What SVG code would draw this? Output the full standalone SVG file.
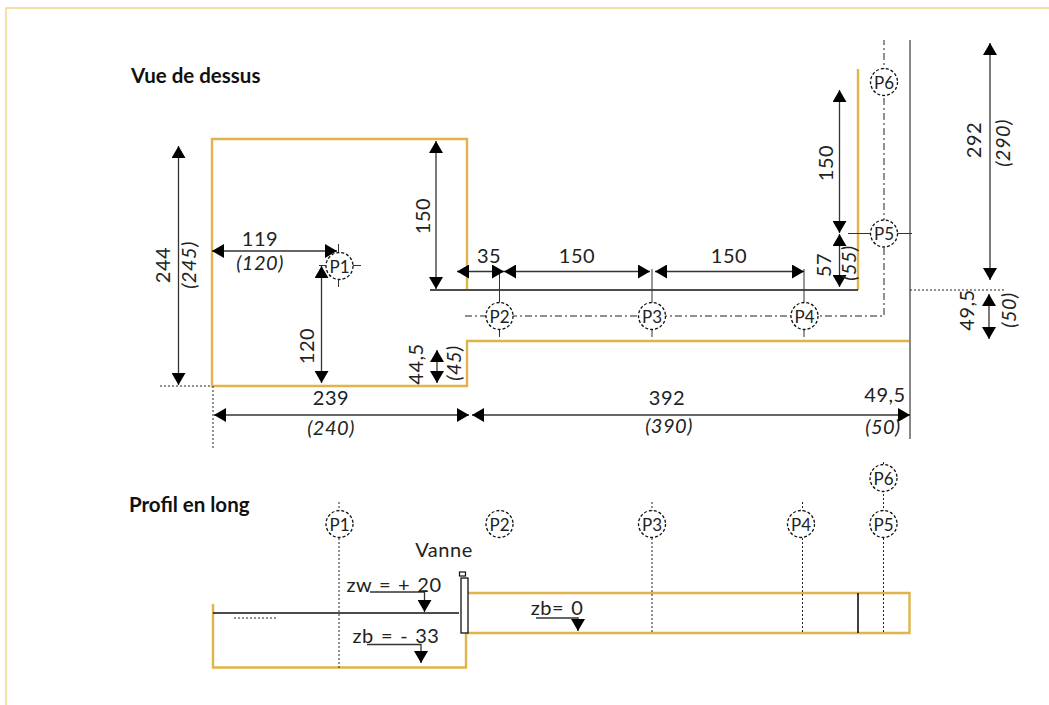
<svg xmlns="http://www.w3.org/2000/svg" width="1049" height="705" viewBox="0 0 1049 705">
<style>
text{font-family:Lato,"Noto Sans","Liberation Sans",sans-serif;font-size:20px;fill:#222;text-anchor:middle;letter-spacing:.5px}
.i{font-style:italic}
.b{font-weight:700;font-size:20.500px;fill:#111;text-anchor:start;letter-spacing:0}
.p{font-size:17px;letter-spacing:0}
.g{fill:none;stroke:#e0b44a;stroke-width:2.4}
.k{fill:none;stroke:#111;stroke-width:1.6}
.t{fill:none;stroke:#333;stroke-width:1}
.d{fill:none;stroke:#222;stroke-width:1;stroke-dasharray:2 2}
.dd{fill:none;stroke:#222;stroke-width:1;stroke-dasharray:7 3 2 3}
.a{fill:none;stroke:#333;stroke-width:1.3;marker-start:url(#ar);marker-end:url(#ar)}
.e{fill:none;stroke:#333;stroke-width:1.3;marker-end:url(#ar)}
.c{fill:#fff;stroke:#111;stroke-width:1.3;stroke-dasharray:3 2}
.z{word-spacing:1.500px}
</style>
<defs>
<marker id="ar" markerUnits="userSpaceOnUse" viewBox="0 0 12 14" refX="12" refY="7" markerWidth="12" markerHeight="14" orient="auto-start-reverse"><path d="M0 0L12 7L0 14Z" fill="#000"/></marker>
</defs>
<path d="M6 705V8H1049" fill="none" stroke="#f3d68e" stroke-width="1.5"/>
<g id="connectors">
<path class="g" d="M467 289V139H212V386H467V341H909"/>
<path class="g" d="M858 69V290"/>
<path class="g" d="M213 604V667.500H466V633"/>
<path class="g" d="M467 593H909.500V633H467"/>
<path class="k" d="M430 290H858"/>
<path d="M910 40V439" fill="none" stroke="#555" stroke-width="1.4"/>
<path class="k" d="M858 593V633"/>
<path class="k" d="M213 613H459"/>
<path class="dd" d="M465 316H884V40"/>
<path class="t" d="M499.500 271V337M652 269V337M804 269V337M848 233.500H912M338.500 244V287M319 265.500H361"/>
<path class="d" d="M160 386H212M213 386V450M910 290H1006M234 618H277M339 502V669M652 502V633M802.500 502V633M883.500 462V633"/>
<path class="a" d="M178.500 146V385"/>
<path class="a" d="M212 251H337"/>
<path class="a" d="M321.500 266V383"/>
<path class="a" d="M214 415H469"/>
<path class="a" d="M472 415H910"/>
<path class="a" d="M436 141V289"/>
<path class="a" d="M457 271.500H504"/>
<path class="a" d="M504 271.500H650"/>
<path class="a" d="M655 271.500H804"/>
<path class="a" d="M839.500 90V233"/>
<path class="a" d="M839.500 234V287"/>
<path class="a" d="M990 43V280"/>
<path class="a" d="M989 294V339"/>
<path class="a" d="M437 350V383"/>
<path class="e" d="M370 592H424.500V612"/>
<path class="e" d="M367 644.500H421V663"/>
<path class="e" d="M536 618H578V631"/>
</g>
<g id="gate"><rect x="461" y="578" width="7" height="55" fill="#fff" stroke="#111" stroke-width="1.300"/><rect x="459.500" y="572" width="6" height="4" fill="#fff" stroke="#111" stroke-width="1.200"/></g>
<g id="P1"><circle class="c" cx="339.500" cy="266" r="13.500"/><text class="p" x="339.500" y="272.500">P1</text></g>
<g id="P2"><circle class="c" cx="499.500" cy="316" r="13.500"/><text class="p" x="499.500" y="322.500">P2</text></g>
<g id="P3"><circle class="c" cx="652" cy="316" r="13.500"/><text class="p" x="652" y="322.500">P3</text></g>
<g id="P4"><circle class="c" cx="804.500" cy="316" r="13.500"/><text class="p" x="804.500" y="322.500">P4</text></g>
<g id="P5"><circle class="c" cx="884" cy="233.500" r="13.500"/><text class="p" x="884" y="240">P5</text></g>
<g id="P6"><circle class="c" cx="884" cy="82" r="13.500"/><text class="p" x="884" y="88.500">P6</text></g>
<g id="P1b"><circle class="c" cx="339.500" cy="524" r="13.500"/><text class="p" x="339.500" y="530.500">P1</text></g>
<g id="P2b"><circle class="c" cx="499.500" cy="524" r="13.500"/><text class="p" x="499.500" y="530.500">P2</text></g>
<g id="P3b"><circle class="c" cx="652" cy="524" r="13.500"/><text class="p" x="652" y="530.500">P3</text></g>
<g id="P4b"><circle class="c" cx="801" cy="524" r="13.500"/><text class="p" x="801" y="530.500">P4</text></g>
<g id="P5b"><circle class="c" cx="883.500" cy="524" r="13.500"/><text class="p" x="883.500" y="530.500">P5</text></g>
<g id="P6b"><circle class="c" cx="883.500" cy="478" r="13.500"/><text class="p" x="883.500" y="484.500">P6</text></g>
<g id="labels">
<text class="b" x="131" y="83">Vue de dessus</text>
<text class="b" x="129" y="512">Profil en long</text>
<text x="260" y="246">119</text>
<text class="i" x="260" y="270">(120)</text>
<text x="331" y="405">239</text>
<text class="i" x="331" y="435">(240)</text>
<text x="667" y="405">392</text>
<text class="i" x="669" y="433">(390)</text>
<text x="885" y="402">49,5</text>
<text class="i" x="883" y="434">(50)</text>
<text x="489" y="263">35</text>
<text x="577" y="263">150</text>
<text x="729" y="263">150</text>
<text transform="translate(170 265) rotate(-90)">244</text>
<text class="i" transform="translate(196 265) rotate(-90)">(245)</text>
<text transform="translate(314 346) rotate(-90)">120</text>
<text transform="translate(430 216) rotate(-90)">150</text>
<text transform="translate(833 163) rotate(-90)">150</text>
<text transform="translate(831 265) rotate(-90)">57</text>
<text class="i" transform="translate(856 263) rotate(-90)">(55)</text>
<text transform="translate(981 140) rotate(-90)">292</text>
<text class="i" transform="translate(1010 143) rotate(-90)">(290)</text>
<text transform="translate(974 310) rotate(-90)">49,5</text>
<text class="i" transform="translate(1016 310) rotate(-90)">(50)</text>
<text transform="translate(423 364) rotate(-90)">44,5</text>
<text class="i" transform="translate(461 363) rotate(-90)">(45)</text>
<text x="444" y="557">Vanne</text>
<text class="z" x="394" y="592">zw = + 20</text>
<text class="z" x="396" y="643">zb = - 33</text>
<text class="z" x="557" y="615">zb= 0</text>
</g>
</svg>
